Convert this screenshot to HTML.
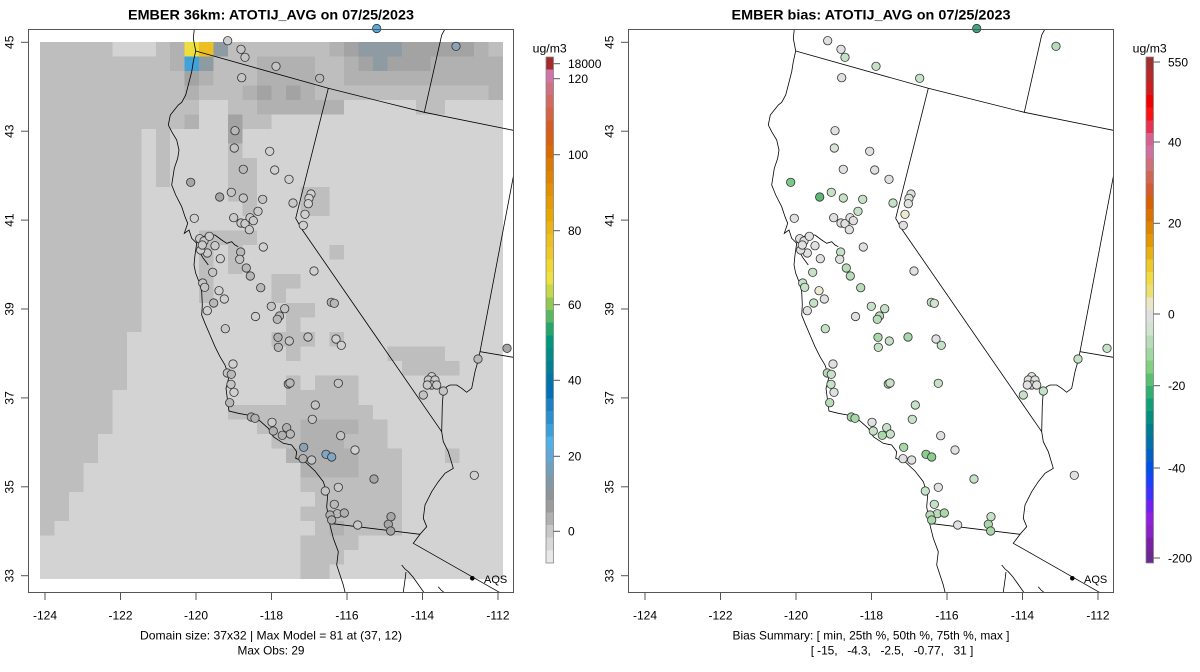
<!DOCTYPE html>
<html><head><meta charset="utf-8">
<style>
html,body{margin:0;padding:0;background:#fff;}
svg{display:block;font-family:"Liberation Sans",Arial,sans-serif;}
.A{fill:#bebebe}.D1{fill:#b1b1b1}.D2{fill:#a3a3a3}.BG{fill:#8e9ba3}
.ln{fill:none;stroke:#000;stroke-width:0.8}
.c circle{stroke:#333;stroke-width:0.8}
.tk{stroke:#555;stroke-width:1}
</style></head><body>
<svg width="1200" height="672" viewBox="0 0 1200 672" xmlns="http://www.w3.org/2000/svg">
<defs>
<clipPath id="fr"><rect x="28.5" y="29.5" width="485" height="563"/></clipPath>
<g id="lines">
<polyline class="ln" points="194.3,29 193.3,38.3 195.7,51 193.3,61.7 191.7,71.7 188.3,85 185.7,95 181.7,102.3 178.3,105 174.3,110 170.3,115 168.3,125 171.7,131.7 176.7,140 179,150 177.7,158.3 174.3,168.3 171.7,185 175.7,195 181.7,206.7 185,216.7 187.7,223.3 184.3,233.3 189,230 191.7,238.3 196.7,243.3 200,238.3 206.7,235 215,235 221.7,240 226.7,243.3 231.7,241.7 235,245 238.3,246.7"/>
<polyline class="ln" points="198.3,245 199.3,251.7 203.3,258.3 208.3,265"/>
<polyline class="ln" points="196.7,243.3 195,255 194,265 195.7,273.3 199,281.7 201.7,291.7 202.3,305 201.7,315 205,323.3 210,335 215,346.7 220,356.7 225,365 229,376.7 226,388.3 227.7,401.7 229,411 238.3,413.3 251.7,415.7 260,421 268.3,428.3 273.3,436.7 283.3,443.3 291.7,445 296.7,451.7 295.7,458.3 305,461.7 315,471 323.3,481.7 327.7,495 326.7,506.7 328.3,516.7 330,525 333.3,538.3 338.3,551.7 336.7,565 340,575 343.3,585 345.7,595"/>
<polyline class="ln" points="195.7,51 328.3,88.3 424.3,112.3 513.3,130.3"/>
<polyline class="ln" points="445,29 441.7,35 424.3,112.3"/>
<polyline class="ln" points="328.3,88.3 295.7,218.3 301.7,229 441.7,431.7"/>
<polyline class="ln" points="513.3,176.7 480,351.7 513.3,357.3"/>
<polyline class="ln" points="480,351.7 478.3,360 475,371.7 471.7,388.3 466.7,392.3 461.7,388.3 456.7,385 450,385 446.7,386.7 443.3,391.7 442.3,405 441.7,431.7 443.3,441.7 448.3,451.7 453.3,468.3 445,473.3 438.3,481.7 431.7,491.7 425,505 423.3,518.3 426.7,526.7 420,534.3 329.3,523.3"/>
<polyline class="ln" points="420,534.3 413.3,543.3 498.3,591.7 512,599"/>
<polyline class="ln" points="401.7,565 405,569 408.3,571.7 413,577 425,594"/>
<polyline class="ln" points="403,594 405,580 406,572"/>
<polyline class="ln" points="438.3,586.7 441,590 446,594"/>
</g>
</defs>
<rect width="1200" height="672" fill="#fff"/>

<!-- ============ LEFT PANEL ============ -->
<g shape-rendering="crispEdges" transform="translate(40,42) scale(14.47,14.51)">
<rect x="0" y="0" width="32" height="37" fill="#d3d3d3"/>
<rect class="A" x="0" y="0" width="5" height="1"/><rect class="A" x="8" y="0" width="1" height="1"/><rect class="D1" x="9" y="0" width="1" height="1"/>
<rect fill="#eedf3e" x="10" y="0" width="1" height="1"/><rect fill="#ecc024" x="11" y="0" width="1" height="1"/><rect class="BG" x="12" y="0" width="1" height="1"/>
<rect class="A" x="13" y="0" width="7" height="1"/><rect class="D1" x="20" y="0" width="1" height="1"/><rect class="D2" x="21" y="0" width="1" height="1"/>
<rect class="BG" x="22" y="0" width="3" height="1"/><rect class="D2" x="25" y="0" width="5" height="1"/><rect class="D1" x="30" y="0" width="1" height="1"/><rect class="A" x="31" y="0" width="1" height="1"/>
<rect class="A" x="0" y="1" width="9" height="1"/><rect class="D1" x="9" y="1" width="1" height="1"/><rect fill="#40a2d8" x="10" y="1" width="1" height="1"/><rect class="BG" x="11" y="1" width="1" height="1"/>
<rect class="A" x="12" y="1" width="3" height="1"/><rect class="D1" x="15" y="1" width="4" height="1"/><rect class="A" x="19" y="1" width="2" height="1"/><rect class="D1" x="21" y="1" width="1" height="1"/>
<rect class="D2" x="22" y="1" width="1" height="1"/><rect class="BG" x="23" y="1" width="1" height="1"/><rect class="D2" x="24" y="1" width="3" height="1"/><rect class="D1" x="27" y="1" width="5" height="1"/>
<rect class="A" x="0" y="2" width="10" height="1"/><rect class="D2" x="10" y="2" width="1" height="1"/><rect class="D1" x="11" y="2" width="1" height="1"/><rect class="A" x="12" y="2" width="3" height="1"/>
<rect class="D1" x="15" y="2" width="4" height="1"/><rect class="A" x="19" y="2" width="2" height="1"/><rect class="D1" x="21" y="2" width="11" height="1"/>
<rect class="A" x="0" y="3" width="10" height="1"/><rect class="D1" x="10" y="3" width="1" height="1"/><rect class="A" x="11" y="3" width="3" height="1"/><rect class="D1" x="14" y="3" width="1" height="1"/>
<rect class="D2" x="15" y="3" width="1" height="1"/><rect class="D1" x="16" y="3" width="1" height="1"/><rect class="D2" x="17" y="3" width="1" height="1"/><rect class="D1" x="18" y="3" width="1" height="1"/>
<rect class="A" x="19" y="3" width="12" height="1"/><rect class="D1" x="31" y="3" width="1" height="1"/>
<rect class="A" x="0" y="4" width="11" height="1"/><rect class="A" x="13" y="4" width="2" height="1"/><rect class="D1" x="15" y="4" width="6" height="1"/><rect class="A" x="26" y="4" width="2" height="1"/>
<rect class="A" x="0" y="5" width="10" height="1"/><rect class="D1" x="10" y="5" width="1" height="1"/><rect class="D2" x="13" y="5" width="1" height="1"/><rect class="A" x="14" y="5" width="2" height="1"/>
<rect class="A" x="0" y="6" width="7" height="14"/>
<rect class="A" x="8" y="6" width="1" height="4"/>
<rect class="D2" x="13" y="6" width="1" height="1"/>
<rect class="A" x="13" y="7" width="1" height="1"/>
<rect class="A" x="13" y="8" width="2" height="3"/>
<rect class="A" x="18" y="10" width="2" height="2"/>
<rect class="A" x="14" y="11" width="1" height="1"/>
<rect class="A" x="11" y="13" width="4" height="1"/>
<rect class="A" x="11" y="14" width="1" height="4"/>
<rect class="A" x="13" y="14" width="1" height="2"/>
<rect class="A" x="20" y="14" width="1" height="1"/>
<rect class="A" x="16" y="16" width="2" height="1"/>
<rect class="A" x="16" y="17" width="1" height="1"/>
<rect class="A" x="17" y="18" width="2" height="1"/>
<rect class="A" x="17" y="19" width="1" height="1"/>
<rect class="A" x="0" y="20" width="6" height="4"/>
<rect class="A" x="16" y="20" width="3" height="1"/><rect class="A" x="20" y="20" width="1" height="1"/>
<rect class="A" x="17" y="21" width="1" height="1"/><rect class="A" x="24" y="21" width="4" height="1"/>
<rect class="A" x="25" y="22" width="4" height="1"/>
<rect class="A" x="17" y="23" width="1" height="1"/><rect class="A" x="19" y="23" width="3" height="1"/>
<rect class="A" x="0" y="24" width="5" height="3"/>
<rect class="A" x="17" y="24" width="5" height="1"/>
<rect class="A" x="13" y="25" width="10" height="1"/>
<rect class="A" x="15" y="26" width="3" height="1"/><rect class="D1" x="18" y="26" width="4" height="1"/><rect class="A" x="22" y="26" width="2" height="1"/>
<rect class="A" x="0" y="27" width="4" height="2"/>
<rect class="A" x="16" y="27" width="2" height="1"/><rect class="D1" x="18" y="27" width="3" height="1"/><rect class="A" x="21" y="27" width="3" height="1"/>
<rect class="D1" x="17" y="28" width="5" height="1"/><rect class="A" x="22" y="28" width="3" height="1"/><rect class="A" x="28" y="28" width="1" height="1"/>
<rect class="A" x="0" y="29" width="3" height="2"/>
<rect class="D1" x="18" y="29" width="4" height="1"/><rect class="A" x="22" y="29" width="3" height="1"/>
<rect class="A" x="18" y="30" width="7" height="1"/>
<rect class="A" x="0" y="31" width="2" height="2"/>
<rect class="A" x="19" y="31" width="6" height="1"/>
<rect class="A" x="18" y="32" width="7" height="1"/>
<rect class="A" x="0" y="33" width="1" height="1"/>
<rect class="A" x="19" y="33" width="6" height="1"/><rect class="D1" x="20" y="33" width="1" height="1"/>
<rect class="A" x="18" y="34" width="4" height="1"/>
<rect class="A" x="18" y="35" width="3" height="1"/>
<rect class="A" x="18" y="36" width="2" height="1"/>
</g>

<g clip-path="url(#fr)"><use href="#lines"/></g>

<g class="c">
<circle cx="227.7" cy="40.7" r="4.2" fill="#cfcfcf"/><circle cx="241" cy="49.3" r="4.2" fill="#c4c4c4"/><circle cx="245" cy="57.3" r="4.2" fill="#c4c4c4"/>
<circle cx="276" cy="66.3" r="4.2" fill="#c4c4c4"/><circle cx="241.7" cy="77.7" r="4.2" fill="#c4c4c4"/><circle cx="319.7" cy="78.3" r="4.2" fill="#b8b8b8"/>
<circle cx="376.7" cy="28.5" r="4.2" fill="#52aee0"/><circle cx="456" cy="46.3" r="4.2" fill="#8aa2b4"/>
<circle cx="235" cy="130.7" r="4.2" fill="#b8b8b8"/><circle cx="234.3" cy="148" r="4.2" fill="#c4c4c4"/><circle cx="269.7" cy="151.3" r="4.2" fill="#d0d0d0"/>
<circle cx="243.3" cy="169.3" r="4.2" fill="#b8b8b8"/><circle cx="274.7" cy="170" r="4.2" fill="#d0d0d0"/><circle cx="289" cy="179.3" r="4.2" fill="#d0d0d0"/>
<circle cx="190.7" cy="182.3" r="4.2" fill="#a6a6a6"/><circle cx="219.7" cy="197" r="4.2" fill="#a6a6a6"/><circle cx="231.3" cy="192.3" r="4.2" fill="#c4c4c4"/>
<circle cx="243.3" cy="198" r="4.2" fill="#c4c4c4"/><circle cx="262.7" cy="199.3" r="4.2" fill="#c4c4c4"/><circle cx="293" cy="203" r="4.2" fill="#c8c8c8"/>
<circle cx="311" cy="194" r="4.2" fill="#d0d0d0"/><circle cx="309" cy="198.3" r="4.2" fill="#d0d0d0"/><circle cx="308.3" cy="203.7" r="4.2" fill="#d0d0d0"/>
<circle cx="305" cy="214.3" r="4.2" fill="#d0d0d0"/><circle cx="303.3" cy="225.3" r="4.2" fill="#d0d0d0"/><circle cx="194.3" cy="218.3" r="4.2" fill="#d0d0d0"/>
<circle cx="233.7" cy="217.7" r="4.2" fill="#cacaca"/><circle cx="241" cy="223" r="4.2" fill="#cacaca"/><circle cx="245" cy="223.7" r="4.2" fill="#cacaca"/>
<circle cx="250" cy="217.7" r="4.2" fill="#cacaca"/><circle cx="253.3" cy="220.7" r="4.2" fill="#cacaca"/><circle cx="249.3" cy="229.7" r="4.2" fill="#cacaca"/>
<circle cx="258" cy="211.3" r="4.2" fill="#cacaca"/>
<circle cx="199.7" cy="238.7" r="4.2" fill="#cacaca"/><circle cx="204" cy="241" r="4.2" fill="#cacaca"/><circle cx="209.3" cy="236.3" r="4.2" fill="#cacaca"/>
<circle cx="215" cy="245.7" r="4.2" fill="#cacaca"/><circle cx="207.3" cy="253" r="4.2" fill="#cacaca"/><circle cx="200.7" cy="250" r="4.2" fill="#d0d0d0"/>
<circle cx="202.3" cy="245" r="4.2" fill="#cacaca"/><circle cx="263.3" cy="247" r="4.2" fill="#d0d0d0"/><circle cx="240.7" cy="252" r="4.2" fill="#b8b8b8"/>
<circle cx="239.7" cy="259.3" r="4.2" fill="#c4c4c4"/><circle cx="220.3" cy="258.7" r="4.2" fill="#d0d0d0"/><circle cx="246.3" cy="268" r="4.2" fill="#b8b8b8"/>
<circle cx="250.3" cy="276" r="4.2" fill="#b8b8b8"/><circle cx="212.7" cy="272.3" r="4.2" fill="#c4c4c4"/><circle cx="260.7" cy="287.7" r="4.2" fill="#b8b8b8"/>
<circle cx="314" cy="271" r="4.2" fill="#d0d0d0"/><circle cx="202.7" cy="283" r="4.2" fill="#c4c4c4"/><circle cx="204.7" cy="287.3" r="4.2" fill="#c4c4c4"/>
<circle cx="219" cy="290.7" r="4.2" fill="#d0d0d0"/><circle cx="224.3" cy="299" r="4.2" fill="#d0d0d0"/><circle cx="213.7" cy="303" r="4.2" fill="#b8b8b8"/>
<circle cx="207.3" cy="310.7" r="4.2" fill="#d0d0d0"/><circle cx="271.3" cy="306.3" r="4.2" fill="#c4c4c4"/><circle cx="284.7" cy="308.7" r="4.2" fill="#c4c4c4"/>
<circle cx="331.3" cy="302.3" r="4.2" fill="#b8b8b8"/><circle cx="334.3" cy="303.3" r="4.2" fill="#b8b8b8"/><circle cx="255.5" cy="316.5" r="4.2" fill="#d0d0d0"/>
<circle cx="279.5" cy="316" r="4.2" fill="#b8b8b8"/><circle cx="277.3" cy="319.3" r="4.2" fill="#b8b8b8"/><circle cx="225.3" cy="328.7" r="4.2" fill="#c8c8c8"/>
<circle cx="278" cy="337.3" r="4.2" fill="#b0b0b0"/><circle cx="289.3" cy="341" r="4.2" fill="#c4c4c4"/><circle cx="308" cy="337" r="4.2" fill="#c4c4c4"/>
<circle cx="278.3" cy="347.3" r="4.2" fill="#b8b8b8"/><circle cx="336" cy="339" r="4.2" fill="#d0d0d0"/><circle cx="341.3" cy="345.3" r="4.2" fill="#d0d0d0"/>
<circle cx="507" cy="348.3" r="4.2" fill="#a6a6a6"/><circle cx="478" cy="359" r="4.2" fill="#b8b8b8"/>
<circle cx="233" cy="364" r="4.2" fill="#d0d0d0"/><circle cx="227.3" cy="373" r="4.2" fill="#c4c4c4"/><circle cx="231.3" cy="374.3" r="4.2" fill="#b8b8b8"/>
<circle cx="231" cy="384.3" r="4.2" fill="#c4c4c4"/><circle cx="234" cy="392.3" r="4.2" fill="#d0d0d0"/><circle cx="229.7" cy="402.7" r="4.2" fill="#b8b8b8"/>
<circle cx="288.3" cy="384" r="4.2" fill="#b8b8b8"/><circle cx="290" cy="383" r="4.2" fill="#b8b8b8"/><circle cx="338.3" cy="383.3" r="4.2" fill="#c4c4c4"/>
<circle cx="431.7" cy="376.7" r="4.2" fill="#cacaca"/><circle cx="428.3" cy="380" r="4.2" fill="#cacaca"/><circle cx="435" cy="380" r="4.2" fill="#cacaca"/>
<circle cx="431.7" cy="385" r="4.2" fill="#cacaca"/><circle cx="436.7" cy="385" r="4.2" fill="#cacaca"/><circle cx="427.3" cy="385" r="4.2" fill="#cacaca"/>
<circle cx="423.3" cy="395" r="4.2" fill="#c4c4c4"/><circle cx="443.3" cy="391" r="4.2" fill="#c4c4c4"/><circle cx="315.3" cy="405" r="4.2" fill="#c4c4c4"/>
<circle cx="312.3" cy="419.3" r="4.2" fill="#c4c4c4"/><circle cx="251.3" cy="417" r="4.2" fill="#b0b0b0"/><circle cx="255" cy="418.3" r="4.2" fill="#b0b0b0"/>
<circle cx="272" cy="422.3" r="4.2" fill="#cacaca"/><circle cx="273.3" cy="431" r="4.2" fill="#b0b0b0"/><circle cx="286.7" cy="427.7" r="4.2" fill="#b0b0b0"/>
<circle cx="290.3" cy="434" r="4.2" fill="#b8b8b8"/><circle cx="282.3" cy="435.3" r="4.2" fill="#b0b0b0"/><circle cx="340.7" cy="435.7" r="4.2" fill="#c4c4c4"/>
<circle cx="303.7" cy="447.3" r="4.2" fill="#8aa2b4"/><circle cx="355" cy="450" r="4.2" fill="#d0d0d0"/><circle cx="326" cy="454.3" r="4.2" fill="#7fa6c4"/>
<circle cx="331.7" cy="457" r="4.2" fill="#7fa6c4"/><circle cx="303" cy="458.7" r="4.2" fill="#b0b0b0"/><circle cx="311.7" cy="460" r="4.2" fill="#c4c4c4"/>
<circle cx="474.3" cy="475.3" r="4.2" fill="#d0d0d0"/><circle cx="374" cy="479" r="4.2" fill="#a6a6a6"/><circle cx="338.3" cy="487.3" r="4.2" fill="#c8c8c8"/>
<circle cx="325.3" cy="491" r="4.2" fill="#c4c4c4"/><circle cx="334.3" cy="504.3" r="4.2" fill="#b8b8b8"/><circle cx="337.3" cy="513.7" r="4.2" fill="#b8b8b8"/>
<circle cx="344.3" cy="513" r="4.2" fill="#b0b0b0"/><circle cx="330" cy="515" r="4.2" fill="#b0b0b0"/><circle cx="331.7" cy="520" r="4.2" fill="#b0b0b0"/>
<circle cx="357.7" cy="525" r="4.2" fill="#c8c8c8"/><circle cx="391" cy="516.7" r="4.2" fill="#a6a6a6"/><circle cx="388.3" cy="524.3" r="4.2" fill="#a6a6a6"/>
<circle cx="390.7" cy="531" r="4.2" fill="#a6a6a6"/>
</g>
<circle cx="472.3" cy="578.3" r="2.3" fill="#000"/>
<text x="484" y="583" font-size="11">AQS</text>

<rect x="28.5" y="29.5" width="485" height="563" fill="none" stroke="#555" stroke-width="1"/>
<g class="tk">
<line x1="45" y1="592.5" x2="45" y2="600"/><line x1="120.5" y1="592.5" x2="120.5" y2="600"/><line x1="196" y1="592.5" x2="196" y2="600"/>
<line x1="271.5" y1="592.5" x2="271.5" y2="600"/><line x1="347" y1="592.5" x2="347" y2="600"/><line x1="422.5" y1="592.5" x2="422.5" y2="600"/><line x1="498" y1="592.5" x2="498" y2="600"/>
<line x1="21" y1="42.3" x2="28.5" y2="42.3"/><line x1="21" y1="131.2" x2="28.5" y2="131.2"/><line x1="21" y1="220.1" x2="28.5" y2="220.1"/>
<line x1="21" y1="309" x2="28.5" y2="309"/><line x1="21" y1="397.9" x2="28.5" y2="397.9"/><line x1="21" y1="486.8" x2="28.5" y2="486.8"/><line x1="21" y1="575.7" x2="28.5" y2="575.7"/>
</g>
<g font-size="12" text-anchor="middle">
<text x="45" y="619.5">-124</text><text x="120.5" y="619.5">-122</text><text x="196" y="619.5">-120</text><text x="271.5" y="619.5">-118</text>
<text x="347" y="619.5">-116</text><text x="422.5" y="619.5">-114</text><text x="498" y="619.5">-112</text>
<text transform="translate(13.5,42.3) rotate(-90)">45</text><text transform="translate(13.5,131.2) rotate(-90)">43</text>
<text transform="translate(13.5,220.1) rotate(-90)">41</text><text transform="translate(13.5,309) rotate(-90)">39</text>
<text transform="translate(13.5,397.9) rotate(-90)">37</text><text transform="translate(13.5,486.8) rotate(-90)">35</text>
<text transform="translate(13.5,575.7) rotate(-90)">33</text>
<text x="271" y="639.5" textLength="262" lengthAdjust="spacingAndGlyphs">Domain size: 37x32 | Max Model = 81 at (37, 12)</text>
<text x="271" y="654.5" textLength="67" lengthAdjust="spacingAndGlyphs">Max Obs: 29</text>
</g>
<text x="271" y="19.5" font-size="14" font-weight="bold" text-anchor="middle" textLength="286" lengthAdjust="spacingAndGlyphs">EMBER 36km: ATOTIJ_AVG on 07/25/2023</text>

<!-- left colorbar -->
<g shape-rendering="crispEdges">
<rect x="546" y="57.00" width="7.5" height="12.75" fill="#a52a2a"/><rect x="546" y="69.65" width="7.5" height="12.75" fill="#cf75a8"/>
<rect x="546" y="82.30" width="7.5" height="12.75" fill="#d07080"/><rect x="546" y="94.95" width="7.5" height="12.75" fill="#d26a60"/>
<rect x="546" y="107.6" width="7.5" height="12.75" fill="#d66440"/><rect x="546" y="120.25" width="7.5" height="12.75" fill="#d85c20"/>
<rect x="546" y="132.9" width="7.5" height="12.75" fill="#d96010"/><rect x="546" y="145.55" width="7.5" height="12.75" fill="#db6a00"/>
<rect x="546" y="158.2" width="7.5" height="12.75" fill="#de7800"/><rect x="546" y="170.85" width="7.5" height="12.75" fill="#e08400"/>
<rect x="546" y="183.5" width="7.5" height="12.75" fill="#e49000"/><rect x="546" y="196.15" width="7.5" height="12.75" fill="#e69c00"/>
<rect x="546" y="208.8" width="7.5" height="12.75" fill="#e8a800"/><rect x="546" y="221.45" width="7.5" height="12.75" fill="#eab414"/>
<rect x="546" y="234.1" width="7.5" height="12.75" fill="#ecc020"/><rect x="546" y="246.75" width="7.5" height="12.75" fill="#eec828"/>
<rect x="546" y="259.4" width="7.5" height="12.75" fill="#f0d830"/><rect x="546" y="272.05" width="7.5" height="12.75" fill="#f0e040"/>
<rect x="546" y="284.7" width="7.5" height="12.75" fill="#c4d848"/><rect x="546" y="297.35" width="7.5" height="12.75" fill="#90c850"/>
<rect x="546" y="310.0" width="7.5" height="12.75" fill="#58b860"/><rect x="546" y="322.65" width="7.5" height="12.75" fill="#20a868"/>
<rect x="546" y="335.3" width="7.5" height="12.75" fill="#00987a"/><rect x="546" y="347.95" width="7.5" height="12.75" fill="#008c88"/>
<rect x="546" y="360.6" width="7.5" height="12.75" fill="#008096"/><rect x="546" y="373.25" width="7.5" height="12.75" fill="#0074a8"/>
<rect x="546" y="385.9" width="7.5" height="12.75" fill="#0070b8"/><rect x="546" y="398.55" width="7.5" height="12.75" fill="#1880c8"/>
<rect x="546" y="411.2" width="7.5" height="12.75" fill="#2890d0"/><rect x="546" y="423.85" width="7.5" height="12.75" fill="#38a0dc"/>
<rect x="546" y="436.5" width="7.5" height="12.75" fill="#50b0e8"/><rect x="546" y="449.15" width="7.5" height="12.75" fill="#60a8d8"/>
<rect x="546" y="461.8" width="7.5" height="12.75" fill="#70a0c0"/><rect x="546" y="474.45" width="7.5" height="12.75" fill="#8098a8"/>
<rect x="546" y="487.1" width="7.5" height="12.75" fill="#8c949c"/><rect x="546" y="499.75" width="7.5" height="12.75" fill="#9c9c9c"/>
<rect x="546" y="512.4" width="7.5" height="12.75" fill="#b0b0b0"/><rect x="546" y="525.05" width="7.5" height="12.75" fill="#c8c8c8"/>
<rect x="546" y="537.7" width="7.5" height="12.75" fill="#d8d8d8"/><rect x="546" y="550.35" width="7.5" height="12.65" fill="#e8e8e8"/>
</g>
<rect x="546" y="57" width="7.5" height="506" fill="none" stroke="#888" stroke-width="0.8"/>
<g class="tk">
<line x1="553.5" y1="63.7" x2="560" y2="63.7"/><line x1="553.5" y1="78.7" x2="560" y2="78.7"/><line x1="553.5" y1="154.7" x2="560" y2="154.7"/>
<line x1="553.5" y1="230.7" x2="560" y2="230.7"/><line x1="553.5" y1="304.7" x2="560" y2="304.7"/><line x1="553.5" y1="380.3" x2="560" y2="380.3"/>
<line x1="553.5" y1="456.3" x2="560" y2="456.3"/><line x1="553.5" y1="531.3" x2="560" y2="531.3"/>
</g>
<g font-size="12">
<text x="568" y="68">18000</text><text x="568" y="83">120</text><text x="568" y="159">100</text><text x="568" y="235">80</text>
<text x="568" y="309">60</text><text x="568" y="384.6">40</text><text x="568" y="460.6">20</text><text x="568" y="535.6">0</text>
<text x="549.7" y="52.5" text-anchor="middle" textLength="34" lengthAdjust="spacingAndGlyphs">ug/m3</text>
</g>

<!-- ============ RIGHT PANEL ============ -->
<g transform="translate(600,0)">
<g clip-path="url(#fr)"><use href="#lines"/></g>
<g class="c">
<circle cx="227.7" cy="40.7" r="4.2" fill="#e0e0e0"/><circle cx="241" cy="49.3" r="4.2" fill="#e0e0e0"/><circle cx="245" cy="57.3" r="4.2" fill="#c6e2c6"/>
<circle cx="276" cy="66.3" r="4.2" fill="#c6e2c6"/><circle cx="241.7" cy="77.7" r="4.2" fill="#e0e0e0"/><circle cx="319.7" cy="78.3" r="4.2" fill="#c6e2c6"/>
<circle cx="376.7" cy="28.5" r="4.2" fill="#3aa884"/><circle cx="456" cy="46.3" r="4.2" fill="#b8dcb8"/>
<circle cx="235" cy="130.7" r="4.2" fill="#e0e0e0"/><circle cx="234.3" cy="148" r="4.2" fill="#d8e4d8"/><circle cx="269.7" cy="151.3" r="4.2" fill="#e0e0e0"/>
<circle cx="243.3" cy="169.3" r="4.2" fill="#e0e0e0"/><circle cx="274.7" cy="170" r="4.2" fill="#e0e0e0"/><circle cx="289" cy="179.3" r="4.2" fill="#e0e0e0"/>
<circle cx="190.7" cy="182.3" r="4.2" fill="#7cc88a"/><circle cx="219.7" cy="197" r="4.2" fill="#5cb878"/><circle cx="231.3" cy="192.3" r="4.2" fill="#c6e2c6"/>
<circle cx="243.3" cy="198" r="4.2" fill="#c6e2c6"/><circle cx="262.7" cy="199.3" r="4.2" fill="#c6e2c6"/><circle cx="293" cy="203" r="4.2" fill="#c6e2c6"/>
<circle cx="311" cy="194" r="4.2" fill="#e0e0e0"/><circle cx="309" cy="198.3" r="4.2" fill="#d8e4d8"/><circle cx="308.3" cy="203.7" r="4.2" fill="#e0e0e0"/>
<circle cx="305" cy="214.3" r="4.2" fill="#ecead0"/><circle cx="303.3" cy="225.3" r="4.2" fill="#e0e0e0"/><circle cx="194.3" cy="218.3" r="4.2" fill="#e0e0e0"/>
<circle cx="233.7" cy="217.7" r="4.2" fill="#e0e0e0"/><circle cx="241" cy="223" r="4.2" fill="#e0e0e0"/><circle cx="245" cy="223.7" r="4.2" fill="#e0e0e0"/>
<circle cx="250" cy="217.7" r="4.2" fill="#e0e0e0"/><circle cx="253.3" cy="220.7" r="4.2" fill="#e0e0e0"/><circle cx="249.3" cy="229.7" r="4.2" fill="#e0e0e0"/>
<circle cx="258" cy="211.3" r="4.2" fill="#c6e2c6"/>
<circle cx="199.7" cy="238.7" r="4.2" fill="#e0e0e0"/><circle cx="204" cy="241" r="4.2" fill="#e0e0e0"/><circle cx="209.3" cy="236.3" r="4.2" fill="#e0e0e0"/>
<circle cx="215" cy="245.7" r="4.2" fill="#e0e0e0"/><circle cx="207.3" cy="253" r="4.2" fill="#e0e0e0"/><circle cx="200.7" cy="250" r="4.2" fill="#e0e0e0"/>
<circle cx="202.3" cy="245" r="4.2" fill="#e0e0e0"/><circle cx="263.3" cy="247" r="4.2" fill="#e0e0e0"/><circle cx="240.7" cy="252" r="4.2" fill="#c6e2c6"/>
<circle cx="239.7" cy="259.3" r="4.2" fill="#e0e0e0"/><circle cx="220.3" cy="258.7" r="4.2" fill="#e0e0e0"/><circle cx="246.3" cy="268" r="4.2" fill="#b8dcb8"/>
<circle cx="250.3" cy="276" r="4.2" fill="#b8dcb8"/><circle cx="212.7" cy="272.3" r="4.2" fill="#c6e2c6"/><circle cx="260.7" cy="287.7" r="4.2" fill="#b8dcb8"/>
<circle cx="314" cy="271" r="4.2" fill="#e0e0e0"/><circle cx="202.7" cy="283" r="4.2" fill="#c6e2c6"/><circle cx="204.7" cy="287.3" r="4.2" fill="#c6e2c6"/>
<circle cx="219" cy="290.7" r="4.2" fill="#ecead0"/><circle cx="224.3" cy="299" r="4.2" fill="#e0e0e0"/><circle cx="213.7" cy="303" r="4.2" fill="#c6e2c6"/>
<circle cx="207.3" cy="310.7" r="4.2" fill="#e0e0e0"/><circle cx="271.3" cy="306.3" r="4.2" fill="#c6e2c6"/><circle cx="284.7" cy="308.7" r="4.2" fill="#c6e2c6"/>
<circle cx="331.3" cy="302.3" r="4.2" fill="#c6e2c6"/><circle cx="334.3" cy="303.3" r="4.2" fill="#d0e4d0"/><circle cx="255.5" cy="316.5" r="4.2" fill="#e0e0e0"/>
<circle cx="279.5" cy="316" r="4.2" fill="#b8dcb8"/><circle cx="277.3" cy="319.3" r="4.2" fill="#b8dcb8"/><circle cx="225.3" cy="328.7" r="4.2" fill="#c6e2c6"/>
<circle cx="278" cy="337.3" r="4.2" fill="#a8d8a8"/><circle cx="289.3" cy="341" r="4.2" fill="#c6e2c6"/><circle cx="308" cy="337" r="4.2" fill="#a8d8a8"/>
<circle cx="278.3" cy="347.3" r="4.2" fill="#c6e2c6"/><circle cx="336" cy="339" r="4.2" fill="#e0e0e0"/><circle cx="341.3" cy="345.3" r="4.2" fill="#c6e2c6"/>
<circle cx="507" cy="348.3" r="4.2" fill="#c6e2c6"/><circle cx="478" cy="359" r="4.2" fill="#c6e2c6"/>
<circle cx="233" cy="364" r="4.2" fill="#e0e0e0"/><circle cx="227.3" cy="373" r="4.2" fill="#b8dcb8"/><circle cx="231.3" cy="374.3" r="4.2" fill="#c6e2c6"/>
<circle cx="231" cy="384.3" r="4.2" fill="#c6e2c6"/><circle cx="234" cy="392.3" r="4.2" fill="#e0e0e0"/><circle cx="229.7" cy="402.7" r="4.2" fill="#b8dcb8"/>
<circle cx="288.3" cy="384" r="4.2" fill="#c6e2c6"/><circle cx="290" cy="383" r="4.2" fill="#c6e2c6"/><circle cx="338.3" cy="383.3" r="4.2" fill="#c6e2c6"/>
<circle cx="431.7" cy="376.7" r="4.2" fill="#e0e0e0"/><circle cx="428.3" cy="380" r="4.2" fill="#e0e0e0"/><circle cx="435" cy="380" r="4.2" fill="#d8e4d8"/>
<circle cx="431.7" cy="385" r="4.2" fill="#e0e0e0"/><circle cx="436.7" cy="385" r="4.2" fill="#e0e0e0"/><circle cx="427.3" cy="385" r="4.2" fill="#e0e0e0"/>
<circle cx="423.3" cy="395" r="4.2" fill="#c6e2c6"/><circle cx="443.3" cy="391" r="4.2" fill="#c6e2c6"/><circle cx="315.3" cy="405" r="4.2" fill="#c6e2c6"/>
<circle cx="312.3" cy="419.3" r="4.2" fill="#c6e2c6"/><circle cx="251.3" cy="417" r="4.2" fill="#a8d8a8"/><circle cx="255" cy="418.3" r="4.2" fill="#a8d8a8"/>
<circle cx="272" cy="422.3" r="4.2" fill="#e0e0e0"/><circle cx="273.3" cy="431" r="4.2" fill="#c6e2c6"/><circle cx="286.7" cy="427.7" r="4.2" fill="#c6e2c6"/>
<circle cx="290.3" cy="434" r="4.2" fill="#c6e2c6"/><circle cx="282.3" cy="435.3" r="4.2" fill="#a8d8a8"/><circle cx="340.7" cy="435.7" r="4.2" fill="#e0e0e0"/>
<circle cx="303.7" cy="447.3" r="4.2" fill="#a8d8a8"/><circle cx="355" cy="450" r="4.2" fill="#e0e0e0"/><circle cx="326" cy="454.3" r="4.2" fill="#8ccc8c"/>
<circle cx="331.7" cy="457" r="4.2" fill="#8ccc8c"/><circle cx="303" cy="458.7" r="4.2" fill="#e0e0e0"/><circle cx="311.7" cy="460" r="4.2" fill="#e0e0e0"/>
<circle cx="474.3" cy="475.3" r="4.2" fill="#e0e0e0"/><circle cx="374" cy="479" r="4.2" fill="#c6e2c6"/><circle cx="338.3" cy="487.3" r="4.2" fill="#e0e0e0"/>
<circle cx="325.3" cy="491" r="4.2" fill="#c6e2c6"/><circle cx="334.3" cy="504.3" r="4.2" fill="#c6e2c6"/><circle cx="337.3" cy="513.7" r="4.2" fill="#b8dcb8"/>
<circle cx="344.3" cy="513" r="4.2" fill="#a8d8a8"/><circle cx="330" cy="515" r="4.2" fill="#b8dcb8"/><circle cx="331.7" cy="520" r="4.2" fill="#a8d8a8"/>
<circle cx="357.7" cy="525" r="4.2" fill="#e0e0e0"/><circle cx="391" cy="516.7" r="4.2" fill="#c6e2c6"/><circle cx="388.3" cy="524.3" r="4.2" fill="#a8d8a8"/>
<circle cx="390.7" cy="531" r="4.2" fill="#a8d8a8"/>
</g>
<circle cx="472.3" cy="578.3" r="2.3" fill="#000"/>
<text x="484" y="583" font-size="11">AQS</text>
<rect x="28.5" y="29.5" width="485" height="563" fill="none" stroke="#555" stroke-width="1"/>
<g class="tk">
<line x1="45" y1="592.5" x2="45" y2="600"/><line x1="120.5" y1="592.5" x2="120.5" y2="600"/><line x1="196" y1="592.5" x2="196" y2="600"/>
<line x1="271.5" y1="592.5" x2="271.5" y2="600"/><line x1="347" y1="592.5" x2="347" y2="600"/><line x1="422.5" y1="592.5" x2="422.5" y2="600"/><line x1="498" y1="592.5" x2="498" y2="600"/>
<line x1="21" y1="42.3" x2="28.5" y2="42.3"/><line x1="21" y1="131.2" x2="28.5" y2="131.2"/><line x1="21" y1="220.1" x2="28.5" y2="220.1"/>
<line x1="21" y1="309" x2="28.5" y2="309"/><line x1="21" y1="397.9" x2="28.5" y2="397.9"/><line x1="21" y1="486.8" x2="28.5" y2="486.8"/><line x1="21" y1="575.7" x2="28.5" y2="575.7"/>
</g>
<g font-size="12" text-anchor="middle">
<text x="45" y="619.5">-124</text><text x="120.5" y="619.5">-122</text><text x="196" y="619.5">-120</text><text x="271.5" y="619.5">-118</text>
<text x="347" y="619.5">-116</text><text x="422.5" y="619.5">-114</text><text x="498" y="619.5">-112</text>
<text transform="translate(13.5,42.3) rotate(-90)">45</text><text transform="translate(13.5,131.2) rotate(-90)">43</text>
<text transform="translate(13.5,220.1) rotate(-90)">41</text><text transform="translate(13.5,309) rotate(-90)">39</text>
<text transform="translate(13.5,397.9) rotate(-90)">37</text><text transform="translate(13.5,486.8) rotate(-90)">35</text>
<text transform="translate(13.5,575.7) rotate(-90)">33</text>
<text x="271" y="639.5" textLength="277" lengthAdjust="spacingAndGlyphs">Bias Summary: [ min, 25th %, 50th %, 75th %, max ]</text>
</g>
<text x="210.7" y="654.5" font-size="12" text-anchor="start" xml:space="preserve" style="white-space:pre" textLength="162.6" lengthAdjust="spacing">[ -15,   -4.3,   -2.5,   -0.77,   31 ]</text>
<text x="271" y="19.5" font-size="14" font-weight="bold" text-anchor="middle" textLength="279" lengthAdjust="spacingAndGlyphs">EMBER bias: ATOTIJ_AVG on 07/25/2023</text>
</g>

<!-- right colorbar -->
<g shape-rendering="crispEdges">
<rect x="1146" y="57.00" width="7.5" height="12.75" fill="#a03030"/><rect x="1146" y="69.65" width="7.5" height="12.75" fill="#b82828"/>
<rect x="1146" y="82.30" width="7.5" height="12.75" fill="#d01c1c"/><rect x="1146" y="94.95" width="7.5" height="12.75" fill="#f00000"/>
<rect x="1146" y="107.6" width="7.5" height="12.75" fill="#ff1010"/><rect x="1146" y="120.25" width="7.5" height="12.75" fill="#e83050"/>
<rect x="1146" y="132.9" width="7.5" height="12.75" fill="#d86090"/><rect x="1146" y="145.55" width="7.5" height="12.75" fill="#d070a0"/>
<rect x="1146" y="158.2" width="7.5" height="12.75" fill="#d07078"/><rect x="1146" y="170.85" width="7.5" height="12.75" fill="#d06650"/>
<rect x="1146" y="183.5" width="7.5" height="12.75" fill="#d45a30"/><rect x="1146" y="196.15" width="7.5" height="12.75" fill="#d86000"/>
<rect x="1146" y="208.8" width="7.5" height="12.75" fill="#dc7000"/><rect x="1146" y="221.45" width="7.5" height="12.75" fill="#e08400"/>
<rect x="1146" y="234.1" width="7.5" height="12.75" fill="#e49800"/><rect x="1146" y="246.75" width="7.5" height="12.75" fill="#e8b010"/>
<rect x="1146" y="259.4" width="7.5" height="12.75" fill="#ecc828"/><rect x="1146" y="272.05" width="7.5" height="12.75" fill="#f0dc40"/>
<rect x="1146" y="284.7" width="7.5" height="12.75" fill="#ece070"/><rect x="1146" y="297.35" width="7.5" height="12.75" fill="#ebe6c8"/>
<rect x="1146" y="310.0" width="7.5" height="12.75" fill="#e0e0e0"/><rect x="1146" y="322.65" width="7.5" height="12.75" fill="#d0e4d0"/>
<rect x="1146" y="335.3" width="7.5" height="12.75" fill="#b8dcb8"/><rect x="1146" y="347.95" width="7.5" height="12.75" fill="#a0d8a0"/>
<rect x="1146" y="360.6" width="7.5" height="12.75" fill="#80d080"/><rect x="1146" y="373.25" width="7.5" height="12.75" fill="#58c070"/>
<rect x="1146" y="385.9" width="7.5" height="12.75" fill="#30b070"/><rect x="1146" y="398.55" width="7.5" height="12.75" fill="#10a078"/>
<rect x="1146" y="411.2" width="7.5" height="12.75" fill="#009080"/><rect x="1146" y="423.85" width="7.5" height="12.75" fill="#007c90"/>
<rect x="1146" y="436.5" width="7.5" height="12.75" fill="#0070a8"/><rect x="1146" y="449.15" width="7.5" height="12.75" fill="#0060c8"/>
<rect x="1146" y="461.8" width="7.5" height="12.75" fill="#0050e8"/><rect x="1146" y="474.45" width="7.5" height="12.75" fill="#1840ff"/>
<rect x="1146" y="487.1" width="7.5" height="12.75" fill="#4030ff"/><rect x="1146" y="499.75" width="7.5" height="12.75" fill="#7020f0"/>
<rect x="1146" y="512.4" width="7.5" height="12.75" fill="#9020e0"/><rect x="1146" y="525.05" width="7.5" height="12.75" fill="#8a20c8"/>
<rect x="1146" y="537.7" width="7.5" height="12.75" fill="#7a20a8"/><rect x="1146" y="550.35" width="7.5" height="12.65" fill="#6a2890"/>
</g>
<rect x="1146" y="57" width="7.5" height="506" fill="none" stroke="#888" stroke-width="0.8"/>
<g class="tk">
<line x1="1153.5" y1="62" x2="1160" y2="62"/><line x1="1153.5" y1="142" x2="1160" y2="142"/><line x1="1153.5" y1="223.3" x2="1160" y2="223.3"/>
<line x1="1153.5" y1="314" x2="1160" y2="314"/><line x1="1153.5" y1="385.7" x2="1160" y2="385.7"/><line x1="1153.5" y1="468" x2="1160" y2="468"/>
<line x1="1153.5" y1="558" x2="1160" y2="558"/>
</g>
<g font-size="12">
<text x="1168" y="66.3">550</text><text x="1168" y="146.3">40</text><text x="1168" y="227.6">20</text><text x="1168" y="318.3">0</text>
<text x="1168" y="390">-20</text><text x="1168" y="472.3">-40</text><text x="1168" y="562.3">-200</text>
<text x="1149.7" y="52.5" text-anchor="middle" textLength="34" lengthAdjust="spacingAndGlyphs">ug/m3</text>
</g>
</svg>
</body></html>
